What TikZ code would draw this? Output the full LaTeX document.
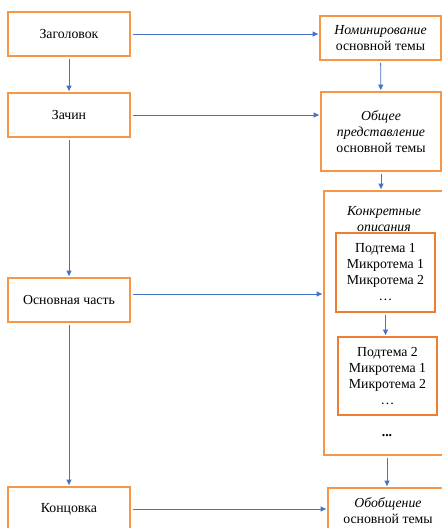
\documentclass[tikz,border=0pt]{standalone}
\usepackage{fontspec}
\setmainfont{Liberation Serif}
\usetikzlibrary{arrows.meta}

\definecolor{boxorange}{RGB}{247,150,70}
\definecolor{suborange}{RGB}{237,125,49}
\definecolor{arrowblue}{RGB}{68,114,196}

\begin{document}
\begin{tikzpicture}[x=1pt,y=-1pt,font=\fontsize{13.8}{16}\selectfont]

      \useasboundingbox (0,0) rectangle (442,528);
      \clip (0,0) rectangle (442,528);

      \begin{scope}[every node/.style={rectangle,draw=boxorange,line width=1.8pt,
                                       align=center,inner sep=0pt}]
        \node[minimum width=122,minimum height=44] (zag)  at (69,34)    {Заголовок};
        \node[minimum width=122,minimum height=44] (zach) at (69,115)   {Зачин};
        \node[minimum width=122,minimum height=44] (osn)  at (69,300)   {Основная часть};
        \node[minimum width=122,minimum height=44] (konc) at (69,509)   {Концовка};
        \node[minimum width=121,minimum height=44] (nom)  at (380.5,38) {\textit{Номинирование}\\основной темы};
        \node[minimum width=120,minimum height=79] (obsh) at (381,131.5) {\textit{Общее}\\\textit{представление}\\основной темы};
        \node[minimum width=126,minimum height=264] (konkr) at (387,323) {};
        \node[minimum width=120,minimum height=46] (obob) at (388,511)  {\textit{Обобщение}\\основной темы};
      \end{scope}

      \begin{scope}[every node/.style={rectangle,draw=suborange,line width=1.8pt,
                                       align=center,inner sep=0pt}]
        \node[minimum width=99,minimum height=79] (sub1) at (385.5,272.5) {Подтема 1\\Микротема 1\\Микротема 2\\\dots};
        \node[minimum width=99,minimum height=78] (sub2) at (387.5,376)   {Подтема 2\\Микротема 1\\Микротема 2\\\dots};
      \end{scope}

      \node[align=center,inner sep=0pt] (konkrlbl) at (384,219.5) {\textit{Конкретные}\\\textit{описания}};
      \node[inner sep=0pt] (dots) at (387,436) {\textbf{...}};

      \begin{scope}[every edge/.style={draw=arrowblue,line width=0.8pt,
                                       shorten <=2pt,shorten >=1pt,
                                       -{Triangle[length=5.5pt,width=5pt]}}]
        \path (zag.east)  edge (zag.east -| nom.west);
        \path (zag)  edge (zach);
        \path (zach) edge (osn);
        \path (osn)  edge (konc);
        \path (nom)  edge (obsh);
        \path (zach.east) edge (zach.east -| obsh.west);
        \path (obsh.south) edge (obsh.south |- konkr.north);
        \path ([yshift=6pt]osn.east) edge ([yshift=6pt]osn.east -| konkr.west);
        \path (sub1.south) edge (sub1.south |- sub2.north);
        \path (konkr.south) edge (konkr.south |- obob.north);
        \path (konc.east) edge (konc.east -| obob.west);
      \end{scope}

    \end{tikzpicture}
\end{document}
